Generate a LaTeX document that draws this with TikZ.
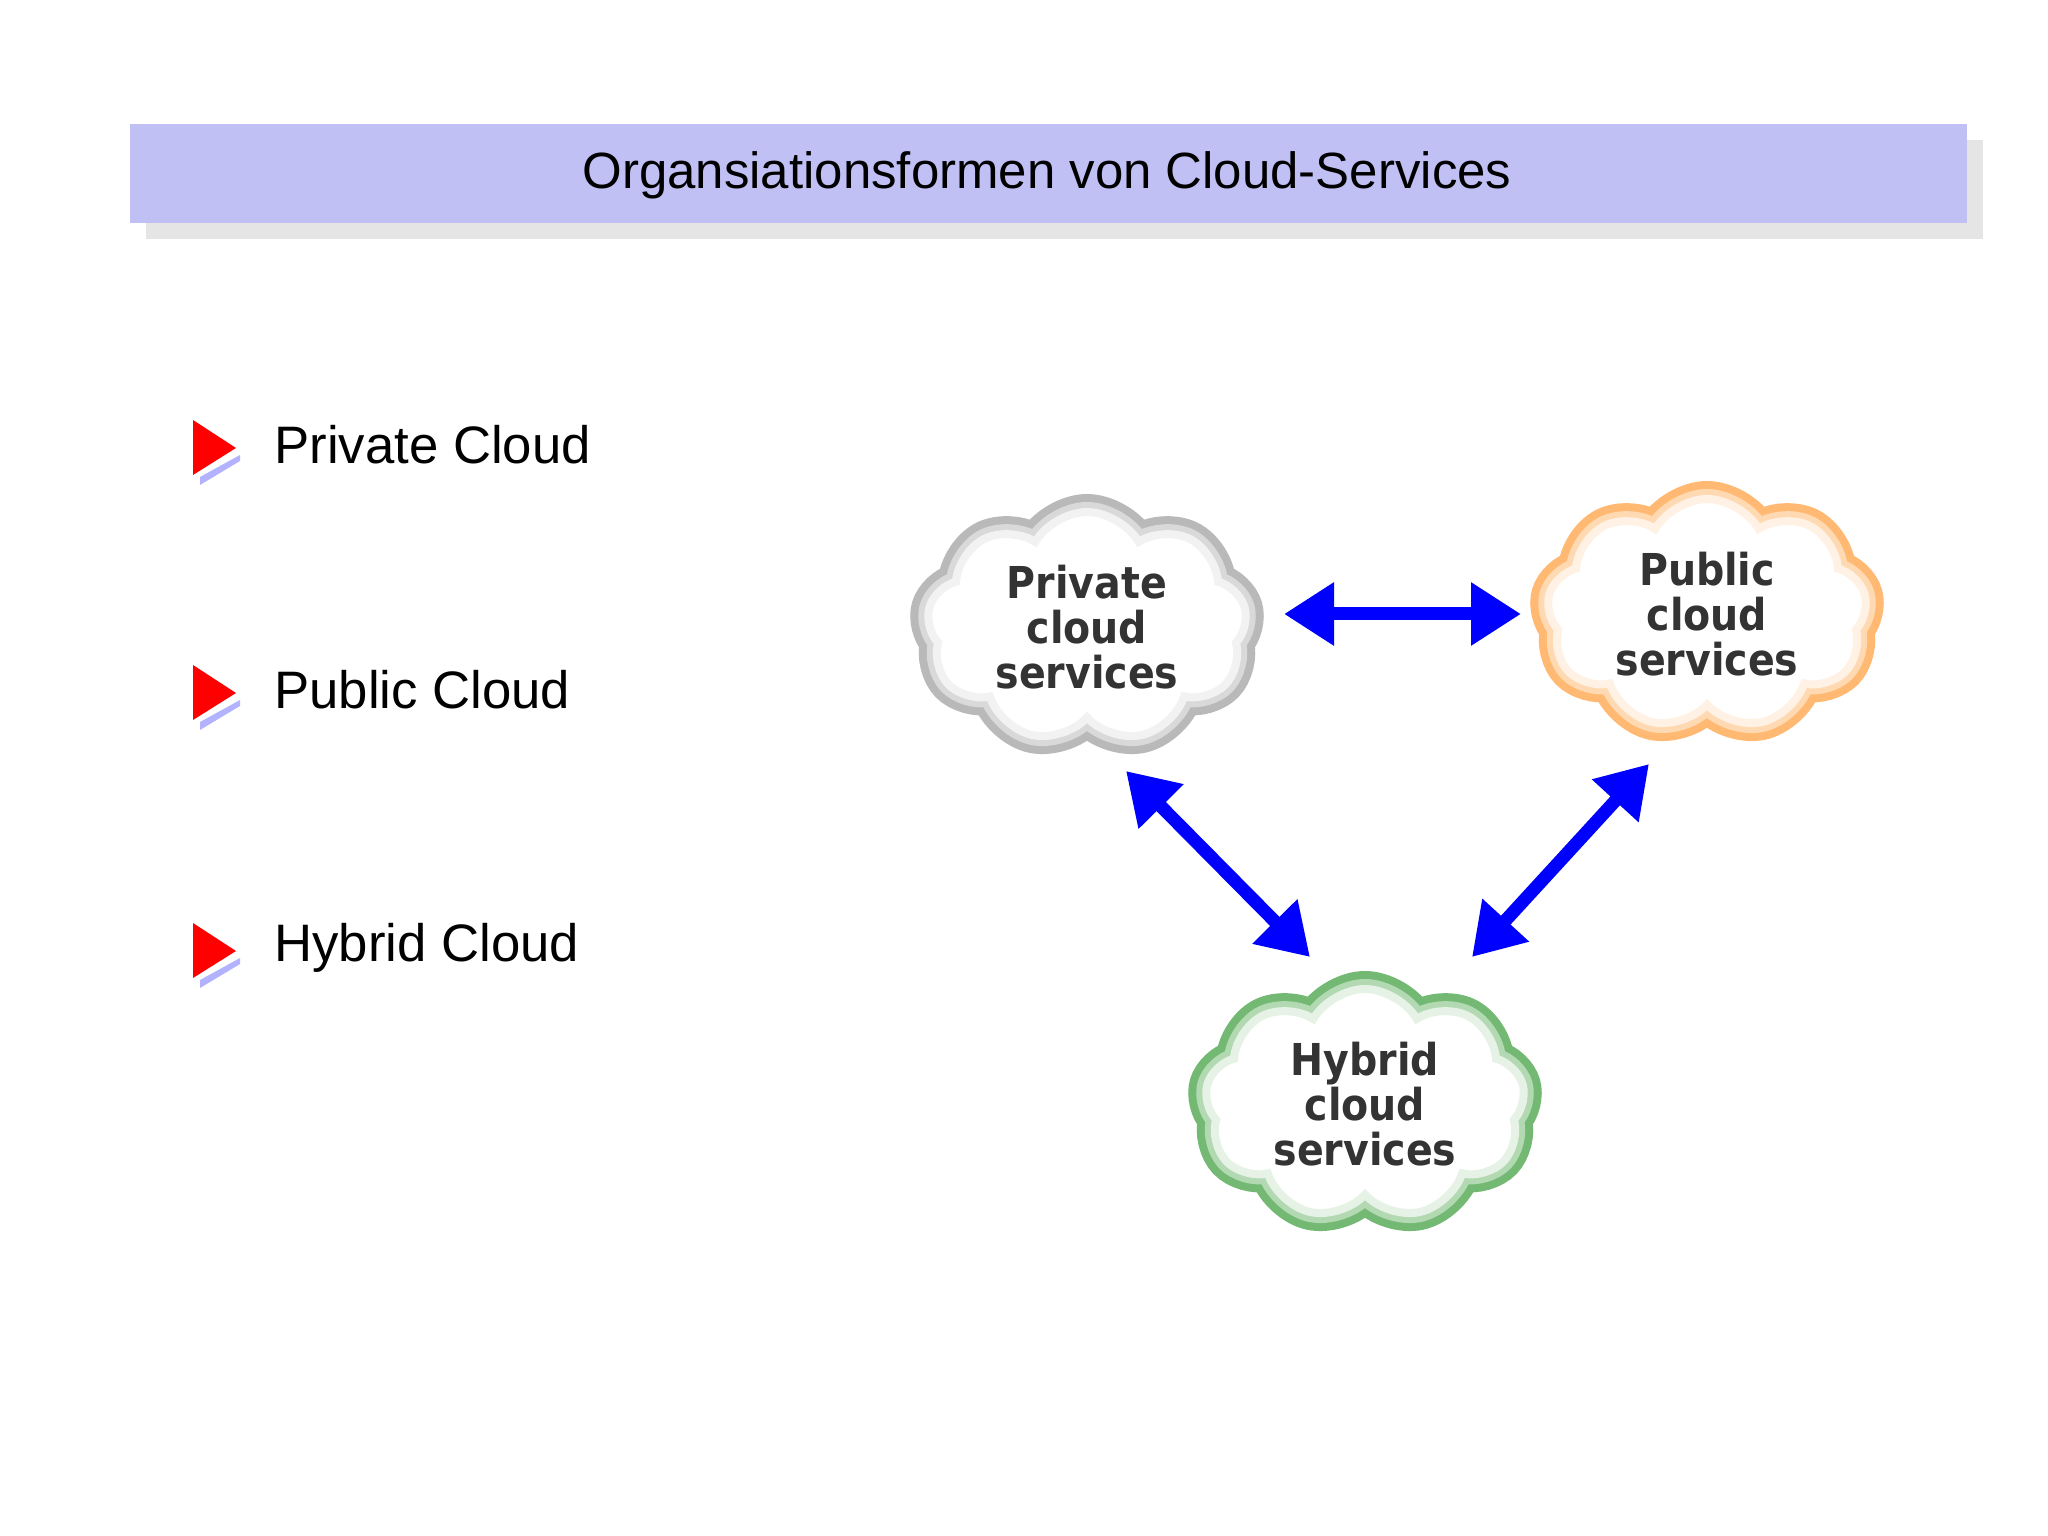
\documentclass[tikz,border=0pt]{standalone}
\usepackage{fontspec}
\setmainfont{Liberation Sans}
\newfontfamily\cloudfont{DejaVu Sans Condensed}
\usetikzlibrary{shapes.symbols, arrows.meta}
\tikzset{
  cloudrim/.style={cloud, cloud puffs=9, cloud puff arc=120, aspect=1.4,
    minimum width=3.2cm, minimum height=2.3cm, fill=white},
  cloudtext/.style={align=center, font=\cloudfont\bfseries\fontsize{12.5}{12.7}\selectfont,
    text=black!80},
  bullet/.style={fill=red, draw=none},
  item/.style={anchor=west, font=\fontsize{15}{18}\selectfont},
  link/.style={draw=blue, line width=1.3mm, {Triangle[length=5mm,width=6mm]}-{Triangle[length=5mm,width=6mm]}}
}
\newcommand{\mycloud}[3]{% pos, colour, name
  \node[cloudrim, draw=#2!55, line width=3.6mm] at #1 {};
  \node[cloudrim, draw=#2!30, line width=2.0mm] at #1 {};
  \node[cloudrim, draw=#2!10, line width=0.8mm] (#3) at #1 {};
}
\begin{document}
\begin{tikzpicture}[x=1cm,y=-1cm]
\useasboundingbox (0,0) rectangle (20.48,15.36);
% title bar
\fill[black!10] (1.46,1.40) rectangle (19.83,2.39);
\node[fill={rgb,255:red,192;green,192;blue,245}, minimum width=18.37cm, minimum height=0.99cm,
  anchor=north west, inner sep=0pt] (title) at (1.29,1.23) {};
\node[font=\fontsize{14.5}{18}\selectfont] (titletext) at (10.47,1.75) {Organsiationsformen von Cloud-Services};
% bullets
\foreach \y/\t/\n in {4.45/Private Cloud/b1, 6.90/Public Cloud/b2, 9.48/Hybrid Cloud/b3}{
  \fill[blue!30] (2.00,\y+0.32) -- (2.40,\y+0.10) -- (2.40,\y+0.16) -- (2.00,\y+0.40) -- cycle;
  \fill[bullet] (1.93,\y-0.25) -- (2.36,\y+0.03) -- (1.93,\y+0.30) -- cycle;
  \node[item] (\n) at (2.62,\y) {\t};
}
% clouds
\mycloud{(10.87,6.27)}{gray}{priv}
\node[cloudtext] (privt) at (10.87,6.27) {Private\\cloud\\services};
\mycloud{(17.07,6.14)}{orange}{pub}
\node[cloudtext] (pubt) at (17.07,6.14) {Public\\cloud\\services};
\mycloud{(13.65,11.04)}{green!50!black}{hyb}
\node[cloudtext] (hybt) at (13.65,11.04) {Hybrid\\cloud\\services};
% links
\coordinate (a1) at (12.84,6.14);
\coordinate (a2) at (15.21,6.14);
\coordinate (b1) at (11.26,7.71);
\coordinate (b2) at (13.10,9.57);
\coordinate (c1) at (16.49,7.64);
\coordinate (c2) at (14.72,9.57);
\draw[link] (a1) -- (a2);
\draw[link] (b1) -- (b2);
\draw[link] (c1) -- (c2);
\end{tikzpicture}
\end{document}
